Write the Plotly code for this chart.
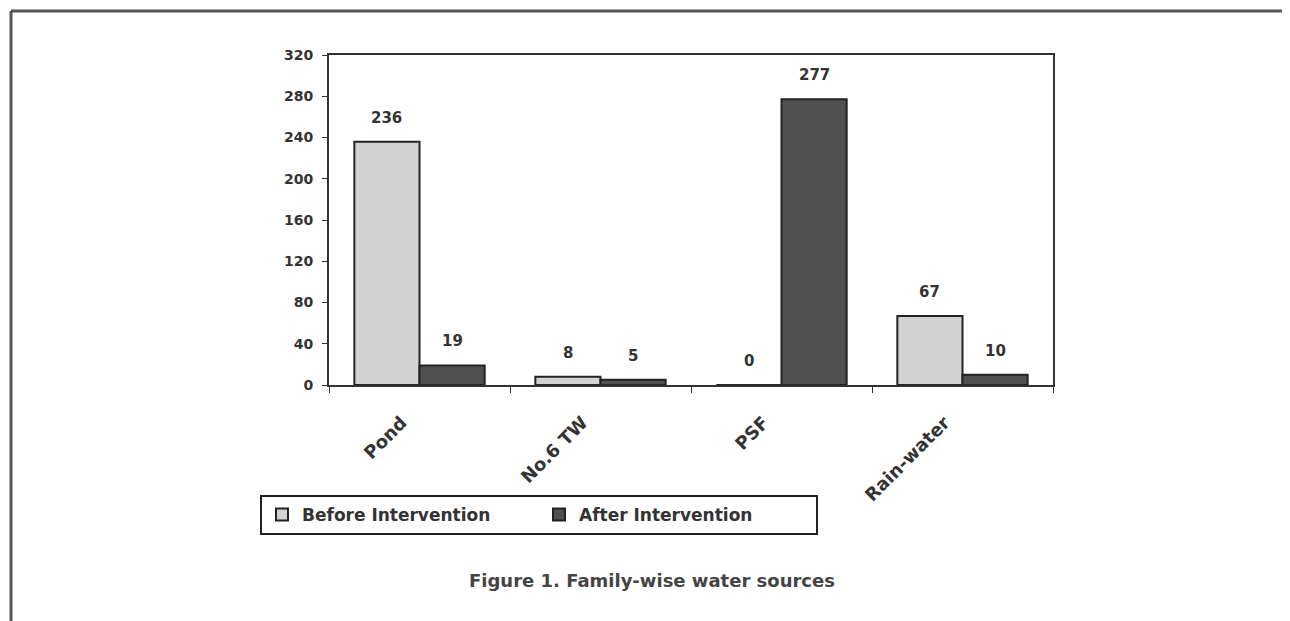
import plotly.graph_objects as go

categories = ["Pond", "No.6 TW", "PSF", "Rain-water"]
before_vals = [236, 8, 0, 67]
after_vals = [19, 5, 277, 10]
y_ticks = [0, 40, 80, 120, 160, 200, 240, 280, 320]
series_names = ["Before Intervention", "After Intervention"]
caption = "Figure 1. Family-wise water sources"

OX, OY = 8, 8  # page body margin
W, H = 1290 - OX, 621 - OY
L, R, T, B = 329 - OX, 1053 - OX, 55 - OY, 385 - OY
pw, ph = R - L, B - T
BARGAP = 0.28

def px(x):
    return (x - OX - L) / pw

def py(y):
    return (B - (y - OY)) / ph

FONT = "DejaVu Sans"
TXT = "#333"
fig = go.Figure()
series = [(series_names[0], before_vals, "#d2d2d2"),
          (series_names[1], after_vals, "#505050")]
for name, vals, col in series:
    fig.add_trace(go.Bar(
        x=categories, y=vals, name=name,
        marker=dict(color=col, line=dict(color="#222", width=2)),
        cliponaxis=False,
    ))

# value labels placed above each bar (half a bar width left/right of category centre)
cat_px = pw / len(categories)
half_bar = cat_px * (1 - BARGAP) / 4
annotations = []
for si, (name, vals, col) in enumerate(series):
    shift = -half_bar if si == 0 else half_bar
    for c, v in zip(categories, vals):
        annotations.append(dict(
            x=c, y=v, xref="x", yref="y", text=str(v), showarrow=False,
            xshift=shift, yshift=24, xanchor="center", yanchor="middle",
            font=dict(family=FONT, size=15, color=TXT, weight="bold"),
        ))
annotations.append(dict(
    text=caption, xref="paper", yref="paper", x=px(652), y=py(580),
    xanchor="center", yanchor="middle", showarrow=False,
    font=dict(family=FONT, size=18, color="#444", weight="bold"),
))

fig.update_layout(
    width=W, height=H,
    margin=dict(l=L, r=W - R, t=T, b=H - B, autoexpand=False),
    paper_bgcolor="white", plot_bgcolor="white",
    barmode="group", bargap=BARGAP, bargroupgap=0,
    font=dict(family=FONT, color=TXT),
    showlegend=True,
    legend=dict(
        orientation="h", x=px(260), y=py(495), xanchor="left", yanchor="top",
        bordercolor="#222", borderwidth=2, bgcolor="white",
        font=dict(family=FONT, size=17, color=TXT, weight="bold"),
        entrywidth=232, entrywidthmode="pixels", traceorder="normal",
        itemsizing="constant",
    ),
    xaxis=dict(
        showline=True, linecolor="#333", linewidth=2, mirror=True,
        ticks="outside", tickson="boundaries", ticklen=6, tickcolor="#333",
        tickangle=-45, ticklabelstandoff=18, ticklabelshift=-18,
        tickfont=dict(family=FONT, size=18, color=TXT, weight="bold"),
        showgrid=False,
    ),
    yaxis=dict(
        range=[0, 320], tickvals=y_ticks, showline=True, linecolor="#333", linewidth=2,
        mirror=True, ticks="outside", ticklen=5, tickcolor="#333",
        ticklabelstandoff=6,
        tickfont=dict(family=FONT, size=14, color=TXT, weight="bold"),
        showgrid=False, zeroline=False,
    ),
    shapes=[
        dict(type="line", xref="paper", yref="paper", x0=px(11), x1=px(1290), y0=py(11), y1=py(11),
             line=dict(color="#555", width=3)),
        dict(type="line", xref="paper", yref="paper", x0=px(11), x1=px(11), y0=py(11), y1=py(621),
             line=dict(color="#555", width=3)),
    ],
    annotations=annotations,
)

fig.write_html("out.html")
